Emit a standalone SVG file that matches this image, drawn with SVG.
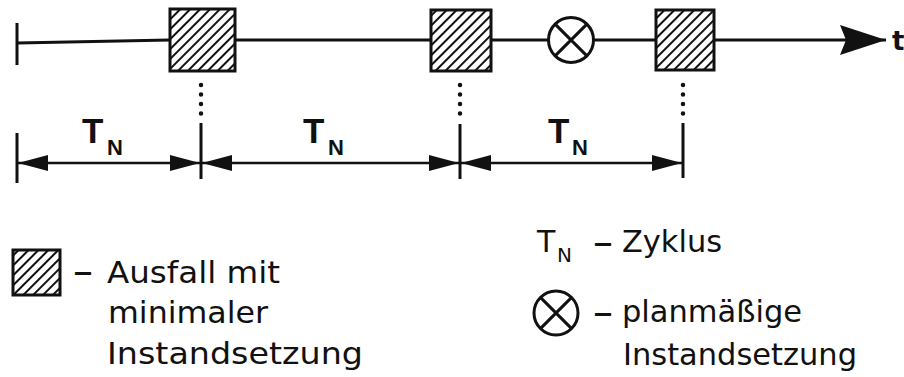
<svg xmlns="http://www.w3.org/2000/svg" width="904" height="377" viewBox="0 0 904 377">
<style>
.ln{stroke:#111;stroke-width:3;fill:none}
.dim{stroke:#111;stroke-width:2.5;fill:none}
.dot{stroke:#111;stroke-width:4.5;stroke-linecap:round;stroke-dasharray:0 9.5;fill:none}
.box{fill:url(#hatch);stroke:#111;stroke-width:3}
.circ{fill:#fff;stroke:#111;stroke-width:3}
.lab{font-family:"DejaVu Sans","Liberation Sans",sans-serif;fill:#111}
.dash{font-size:40px}
.tn{font-family:"Liberation Sans",Arial,sans-serif;font-weight:bold;fill:#111}
</style>
<defs>
<pattern id="hatch" width="7" height="7" patternUnits="userSpaceOnUse" patternTransform="rotate(45)">
<rect width="7" height="7" fill="#fff"/>
<line x1="1" y1="0" x2="1" y2="7" stroke="#111" stroke-width="2"/>
</pattern>
<marker id="dimArrow" markerUnits="userSpaceOnUse" markerWidth="30" markerHeight="18" refX="30" refY="9" orient="auto-start-reverse">
<path d="M0,1 L30,9 L0,17 Z" fill="#111"/>
</marker>
<marker id="bigArrow" markerUnits="userSpaceOnUse" markerWidth="46" markerHeight="32" refX="46" refY="16" orient="auto">
<path d="M0,1 L46,16 L0,31 L6,16 Z" fill="#111"/>
</marker>
</defs>
<rect width="904" height="377" fill="#fff"/>

<g id="connectors">
<line class="ln" x1="17" y1="23" x2="17" y2="65"/>
<line class="ln" x1="17" y1="43" x2="170" y2="40"/>
<line class="ln" x1="235" y1="40" x2="431" y2="40"/>
<line class="ln" x1="491" y1="40" x2="549" y2="40"/>
<line class="ln" x1="594" y1="40" x2="656" y2="40"/>
<line class="ln" x1="714" y1="40" x2="886" y2="40" marker-end="url(#bigArrow)"/>
<line class="dot" x1="201" y1="85" x2="201" y2="116"/>
<line class="dot" x1="460" y1="85" x2="460" y2="116"/>
<line class="dot" x1="683" y1="85" x2="683" y2="116"/>
<line class="ln" x1="201" y1="123" x2="201" y2="179"/>
<line class="ln" x1="460" y1="124" x2="460" y2="179"/>
<line class="ln" x1="683" y1="123" x2="683" y2="178"/>
<line class="ln" x1="17" y1="133" x2="17" y2="183"/>
<line class="dim" x1="18" y1="163" x2="200" y2="163" marker-start="url(#dimArrow)" marker-end="url(#dimArrow)"/>
<line class="dim" x1="202" y1="163" x2="459" y2="163" marker-start="url(#dimArrow)" marker-end="url(#dimArrow)"/>
<line class="dim" x1="461" y1="163" x2="682" y2="163" marker-start="url(#dimArrow)" marker-end="url(#dimArrow)"/>
</g>

<g id="fail1"><rect class="box" x="170" y="9" width="65" height="62"/></g>
<g id="fail2"><rect class="box" x="431" y="10" width="60" height="61"/></g>
<g id="planned"><circle class="circ" cx="571" cy="40" r="22.5"/><path class="ln" d="M555.1,24.1 L586.9,55.9 M586.9,24.1 L555.1,55.9"/></g>
<g id="fail3"><rect class="box" x="656" y="10" width="58" height="60"/></g>
<g id="axis-label"><text class="lab" x="892" y="50" font-size="26" font-weight="bold">t</text></g>

<g id="tn1"><text class="tn" x="82" y="143" font-size="35">T<tspan x="107" y="155" font-size="22">N</tspan></text></g>
<g id="tn2"><text class="tn" x="303" y="143" font-size="35">T<tspan x="328" y="155" font-size="22">N</tspan></text></g>
<g id="tn3"><text class="tn" x="548" y="143" font-size="35">T<tspan x="572" y="155" font-size="22">N</tspan></text></g>

<g id="legend-fail">
<rect class="box" x="13" y="250" width="47" height="45"/>
<text class="lab" font-size="31"><tspan class="dash" x="73" y="285">–</tspan><tspan x="107" y="283" textLength="173" lengthAdjust="spacingAndGlyphs">Ausfall mit</tspan></text>
<text class="lab" font-size="31" x="108" y="323" textLength="160" lengthAdjust="spacingAndGlyphs">minimaler</text>
<text class="lab" font-size="31" x="107" y="364" textLength="256" lengthAdjust="spacingAndGlyphs">Instandsetzung</text>
</g>
<g id="legend-tn">
<text class="lab" font-size="30"><tspan x="537" y="252">T</tspan><tspan x="557" y="262" font-size="20">N</tspan><tspan class="dash" x="593" y="256">–</tspan><tspan x="622" y="252" textLength="100" lengthAdjust="spacingAndGlyphs">Zyklus</tspan></text>
</g>
<g id="legend-planned">
<circle class="circ" cx="556" cy="313" r="22"/><path class="ln" d="M540.4,297.4 L571.6,328.6 M571.6,297.4 L540.4,328.6"/>
<text class="lab" font-size="30"><tspan class="dash" x="593" y="326">–</tspan><tspan x="622" y="322" textLength="180" lengthAdjust="spacingAndGlyphs">planmäßige</tspan></text>
<text class="lab" font-size="30" x="623" y="365" textLength="234" lengthAdjust="spacingAndGlyphs">Instandsetzung</text>
</g>
</svg>
